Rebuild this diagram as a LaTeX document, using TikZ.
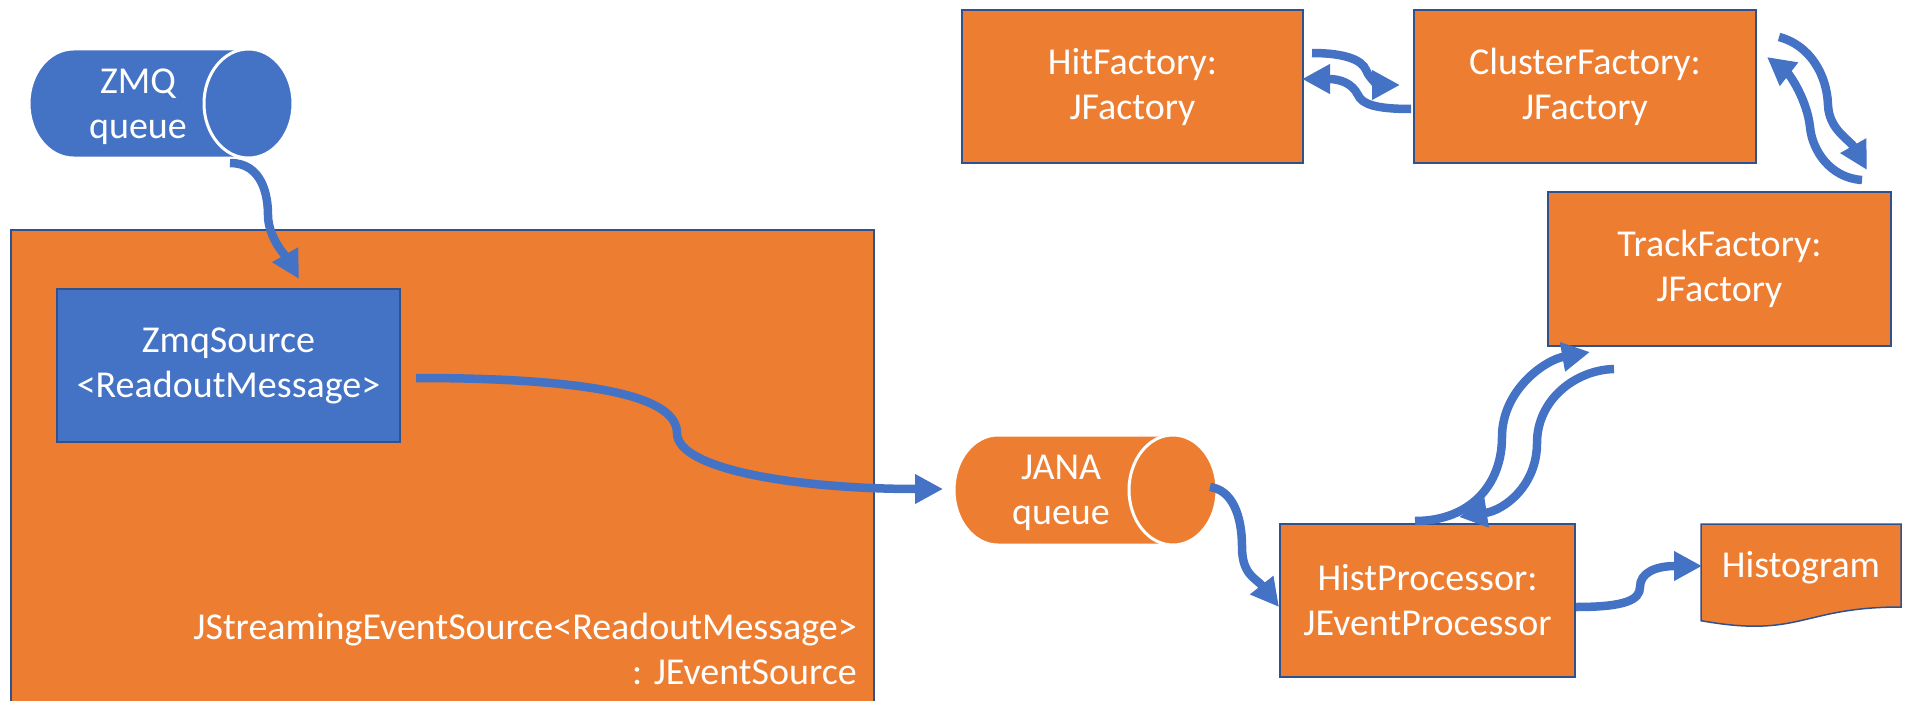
\documentclass[tikz,border=0pt]{standalone}
\usepackage{fontspec}
\setmainfont{Carlito}
\usetikzlibrary{arrows.meta}
\definecolor{offblue}{HTML}{4472C4}
\definecolor{offorange}{HTML}{ED7D31}
\definecolor{edgeblue}{HTML}{2F528F}
\begin{document}
\begin{tikzpicture}[x=1pt,y=-1pt,
  every node/.style={font=\fontsize{38}{45}\selectfont, text=white, inner sep=0pt},
  box/.style={draw=edgeblue, line width=1.5pt, fill=offorange, align=center},
  bluebox/.style={box, fill=offblue},
  flow/.style={draw=offblue, line width=8.5pt, -{Triangle[length=28pt,width=28pt]}},
  can/.style={fill=#1, draw=white, line width=3pt}
]
\useasboundingbox (0,0) rectangle (1906,701);

% streaming event source container
\node[box, minimum width=863pt, minimum height=480pt, anchor=north west] (jsrc) at (10,229) {};
\node[anchor=south east, align=right] (jsrclabel) at (857,685)
  {JStreamingEventSource<ReadoutMessage>\\: JEventSource};
\node[bluebox, minimum width=343pt, minimum height=153pt] (src) at (228.5,365.5)
  {ZmqSource\\<ReadoutMessage>};

% ZMQ queue cylinder
\path[can=offblue] (73.5,49) -- (248.5,49)
  arc[start angle=-90, end angle=90, x radius=44.5, y radius=54.5] -- (73.5,158)
  arc[start angle=90, end angle=270, x radius=44.5, y radius=54.5] -- cycle;
\path[can=offblue] (248.5,103.5) ellipse[x radius=44.5, y radius=54.5];
\node[align=center] (zmq) at (138,107) {ZMQ\\queue};

% JANA queue cylinder
\path[can=offorange] (998,435) -- (1173,435)
  arc[start angle=-90, end angle=90, x radius=44, y radius=55] -- (998,545)
  arc[start angle=90, end angle=270, x radius=44, y radius=55] -- cycle;
\path[can=offorange] (1173,490) ellipse[x radius=44, y radius=55];
\node[align=center] (jana) at (1061,493) {JANA\\queue};

% factories and processor
\node[box, minimum width=341pt, minimum height=153pt] (hit) at (1132.5,86.5) {HitFactory:\\JFactory};
\node[box, minimum width=342pt, minimum height=153pt] (cluster) at (1585,86.5) {ClusterFactory:\\JFactory};
\node[box, minimum width=343pt, minimum height=154pt] (track) at (1719.5,269) {TrackFactory:\\JFactory};
\node[box, minimum width=295pt, minimum height=153pt] (hist) at (1427.5,600.5) {HistProcessor:\\JEventProcessor};

% histogram document
\path[fill=offorange, draw=edgeblue, line width=1.5pt] (1701,524) -- (1901,524) -- (1901,607)
  .. controls (1801,607) and (1801,638.6) .. (1701,620.7) -- cycle;
\node (histo) at (1801,568) {Histogram};

% connector end points
\coordinate (zmq-out) at (230,163);
\coordinate (src-in) at (299,279);
\coordinate (src-out) at (416,378);
\coordinate (jana-in) at (943,489);
\coordinate (jana-out) at (1210,487);
\coordinate (hist-in) at (1279,607);
\coordinate (hist-up) at (1415,521);
\coordinate (track-in) at (1590,352);
\coordinate (track-out) at (1614,369);
\coordinate (hist-back) at (1459,517);
\coordinate (hist-out) at (1576,607);
\coordinate (histo-in) at (1702,566);
\coordinate (hit-out) at (1312,53);
\coordinate (cluster-in) at (1400,85);
\coordinate (cluster-out) at (1411,109);
\coordinate (hit-in) at (1302,79);
\coordinate (cluster-down) at (1779,37);
\coordinate (track-top-in) at (1867,170);
\coordinate (track-top-out) at (1862,180);
\coordinate (cluster-back) at (1767,57);

% data flow
\draw[flow] (zmq-out) .. controls (262,163) and (268,195) .. (268,215)
  .. controls (268,238) and (287,258) .. (src-in);
\draw[flow] (src-out) .. controls (600,378) and (677,398) .. (677,433)
  .. controls (677,470) and (800,489) .. (jana-in);
\draw[flow] (jana-out) .. controls (1232,490) and (1242,515) .. (1242,547)
  .. controls (1242,575) and (1256,578) .. (hist-in);
\draw[flow] (hist-up) .. controls (1470,521) and (1502,485) .. (1502,437)
  .. controls (1502,390) and (1545,360) .. (track-in);
\draw[flow] (track-out) .. controls (1575,370) and (1537,400) .. (1537,443)
  .. controls (1537,485) and (1505,510) .. (hist-back);
\draw[flow] (hist-out) .. controls (1625,607) and (1640,600) .. (1640,587)
  .. controls (1640,573) and (1655,566) .. (histo-in);
\draw[flow] (hit-out) .. controls (1345,53) and (1362,60) .. (1366,70)
  .. controls (1370,80) and (1380,85) .. (cluster-in);
\draw[flow] (cluster-out) .. controls (1375,109) and (1362,104) .. (1358,95)
  .. controls (1352,83) and (1340,79) .. (hit-in);
\draw[flow] (cluster-down) .. controls (1810,45) and (1827,75) .. (1828,105)
  .. controls (1829,130) and (1850,140) .. (track-top-in);
\draw[flow] (track-top-out) .. controls (1830,178) and (1812,150) .. (1810,127)
  .. controls (1807,100) and (1790,75) .. (cluster-back);
\end{tikzpicture}
\end{document}
